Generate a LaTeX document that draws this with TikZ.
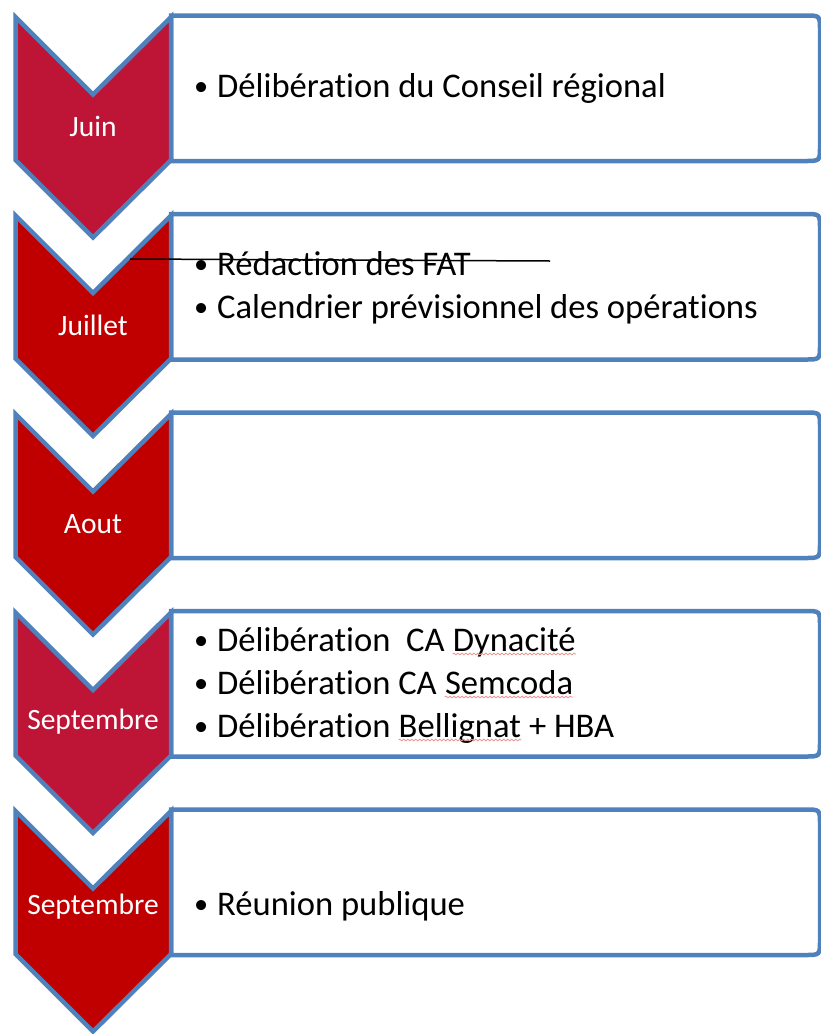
\documentclass[tikz,border=0pt]{standalone}
\usepackage{fontspec}
\setmainfont{Carlito}[Ligatures={NoCommon}]
\usetikzlibrary{decorations.pathmorphing}
\definecolor{outl}{HTML}{4F81BD}
\definecolor{crim}{HTML}{BE1537}
\definecolor{dred}{HTML}{C00000}
\definecolor{squig}{HTML}{F09090}
\newcommand\mychevron[2]{%
  \draw[chev,fill=#2] (15.5,#1) -- (93,{#1+77.5}) -- (171,#1) -- (171,{#1+143}) -- (93,{#1+220.5}) -- (15.5,{#1+143}) -- cycle;}
\newcommand\mybox[1]{%
  \draw[tbox] (171,{#1-1.5}) -- (805,{#1-1.5}) .. controls (820,{#1-1.5}) .. (820,{#1+13.5}) -- (820,{#1+129}) .. controls (820,{#1+144}) .. (805,{#1+144}) -- (171,{#1+144}) -- cycle;}
\newcommand\bul{\makebox[24pt][l]{\hspace{1pt}\raisebox{1.8pt}{\scalebox{0.82}{•}}}}
\begin{document}
\begin{tikzpicture}[x=1pt,y=-1pt,
  chev/.style={draw=outl,line width=4.5pt,line join=miter,miter limit=10},
  tbox/.style={draw=outl,line width=4.5pt,fill=white},
  month/.style={text=white,font=\fontsize{29.5}{35}\selectfont,inner sep=0pt},
  item/.style={anchor=base west,inner sep=0pt,font=\fontsize{34.6}{41}\selectfont},
  squiggle/.style={draw=squig,line width=0.8pt,decorate,decoration={snake,amplitude=0.8pt,segment length=4pt}}]
\useasboundingbox (0,0) rectangle (821,1034);
% boxes
\mybox{17}
\mybox{215.5}
\mybox{414}
\mybox{612.5}
\mybox{811}
% chevrons
\mychevron{17}{crim}
\mychevron{215.5}{dred}
\mychevron{414}{dred}
\mychevron{612.5}{crim}
\mychevron{811}{dred}
% month labels
\node[month] (m1) at (93,126) {Juin};
\node[month] (m2) at (93,325) {Juillet};
\node[month] (m3) at (93,524) {Aout};
\node[month] (m4) at (93,722) {Septembre};
\node[month] (m5) at (93,907) {Septembre};
% items
\node[item] (t1) at (193,97) {\bul Délibération du Conseil régional};
\node[item] (t21) at (193,275) {\bul Rédaction des FAT};
\node[item] (t22) at (193,318) {\bul Calendrier prévisionnel des opérations};
\node[item] (t41) at (193,651) {\bul Délibération\ \ CA};
\node[item] (w41) at ([xshift=7.8pt]t41.base east) {Dynacité};
\node[item] (t42) at (193,694) {\bul Délibération CA};
\node[item] (w42) at ([xshift=7.8pt]t42.base east) {Semcoda};
\node[item] (t43) at (193,737) {\bul Délibération};
\node[item] (w43) at ([xshift=7.8pt]t43.base east) {Bellignat};
\node[item] (u43) at ([xshift=7.8pt]w43.base east) {+ HBA};
\node[item] (t5) at (193,915) {\bul Réunion publique};
% spell-check squiggles
\draw[squiggle] ([yshift=-3pt]w41.base west) -- ([yshift=-3pt]w41.base east);
\draw[squiggle] ([yshift=-3pt]w42.base west) -- ([yshift=-3pt]w42.base east);
\draw[squiggle] ([yshift=-3pt]w43.base west) -- ([yshift=-3pt]w43.base east);
% strike line
\coordinate (s1) at (130,259);
\coordinate (s2) at (550,261);
\draw[black,line width=1.5pt] (s1) -- (s2);
\end{tikzpicture}
\end{document}
